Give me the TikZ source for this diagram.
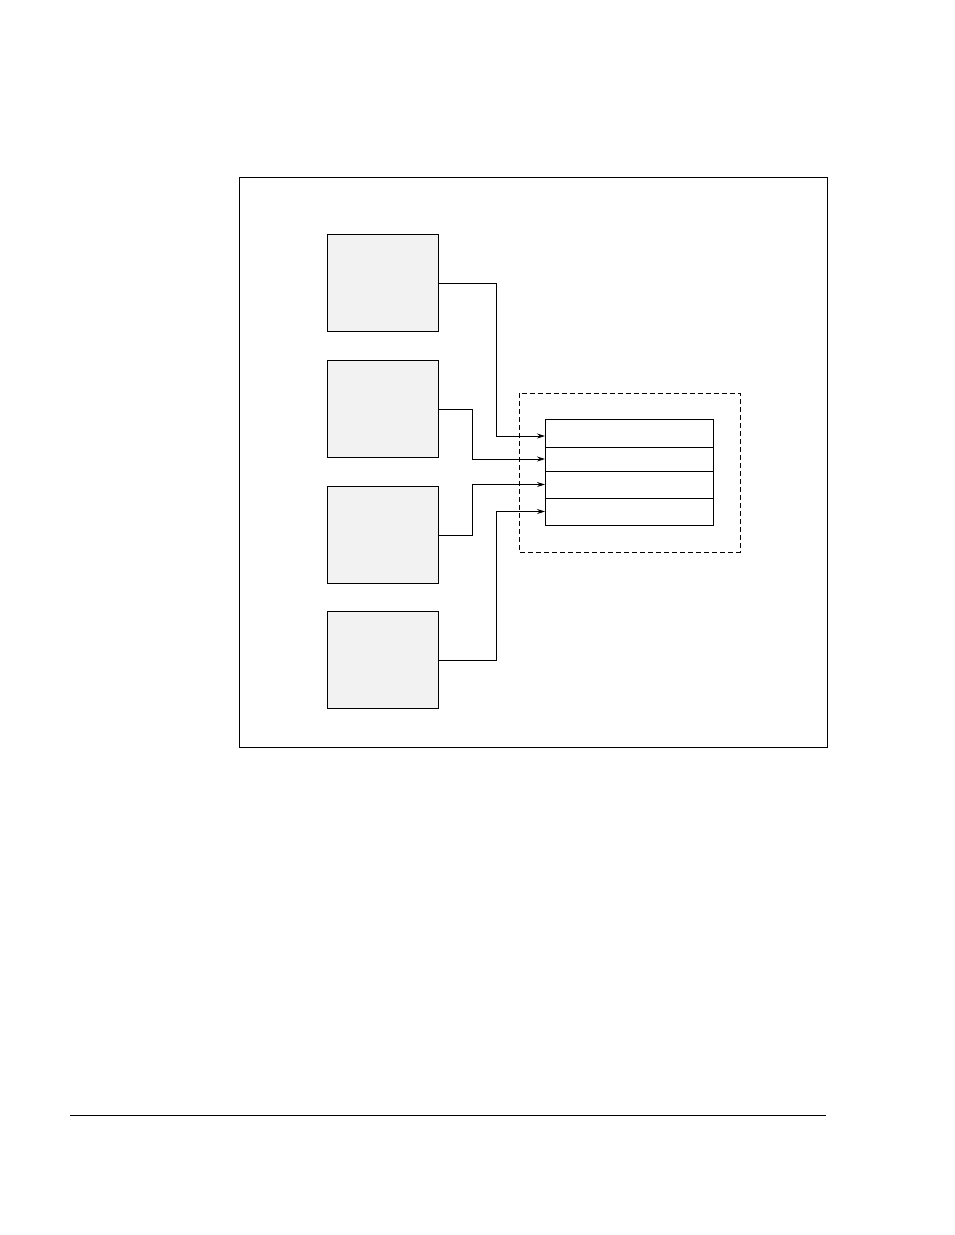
\documentclass[tikz,border=0pt]{standalone}
\usepackage{tikz}
\usetikzlibrary{arrows.meta,positioning}

\tikzset{
  unit/.style={draw, fill=black!5, minimum width=111pt, minimum height=97pt, inner sep=0pt, anchor=north west},
  slot/.style={draw, minimum width=168pt, inner sep=0pt, outer sep=0pt, anchor=north west},
  feed/.style={-{Stealth[length=8pt,width=5pt]}}
}

\begin{document}
\begin{tikzpicture}[x=1pt, y=1pt, line width=0.8pt]
    \useasboundingbox (0,0) rectangle (954,-1235);

    % draw outer frame
    \draw (239,-177) rectangle (827,-747);

    % draw the four units
    \foreach \n/\y in {1/234,2/360,3/486,4/611}
      \node[unit] (unit\n) at (327,-\y) {};

    % draw dashed group and the table
    \draw[dash pattern=on 5pt off 3pt] (519,-393) rectangle (740,-552);
    \node[slot, minimum height=28pt] (row1) at (545,-419) {};
    \node[slot, minimum height=24pt, below=0pt of row1] (row2) {};
    \node[slot, minimum height=27pt, below=0pt of row2] (row3) {};
    \node[slot, minimum height=27pt, below=0pt of row3] (row4) {};

    % draw connectors
    \draw[feed] (unit1.east) -- ++(58,0) |- ([yshift=-3pt]row1.west);
    \draw[feed] (unit2.east) -- ++(34,0) |- (row2.west);
    \draw[feed] (unit3.east) -- ++(34,0) |- (row3.west);
    \draw[feed] (unit4.east) -- ++(58,0) |- (row4.west);

    % draw bottom rule
    \draw (70,-1115) -- (826,-1115);
  \end{tikzpicture}
\end{document}
